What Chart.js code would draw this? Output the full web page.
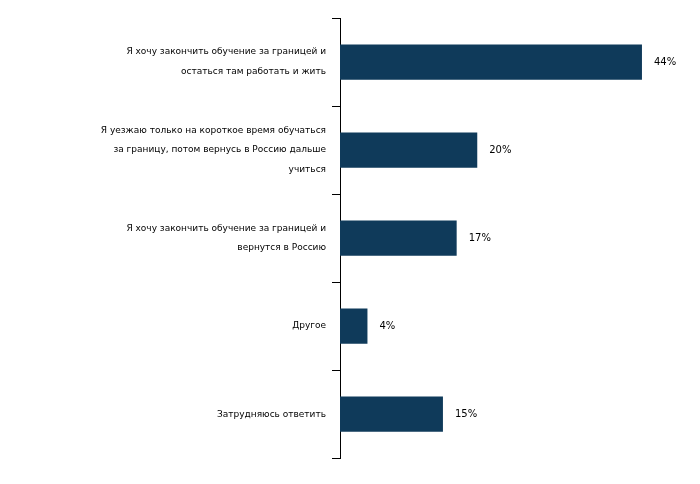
<!DOCTYPE html>
<html><head><meta charset="utf-8">
<script src="https://cdn.jsdelivr.net/npm/chart.js@4"></script>
<style>body{margin:0;background:#fff}#wrap{width:700px;height:484px}</style>
</head><body><div id="wrap"><canvas id="c"></canvas></div>
<script>
const categories = [
  ['Я хочу закончить обучение за границей и', 'остаться там работать и жить'],
  ['Я уезжаю только на короткое время обучаться', 'за границу, потом вернусь в Россию дальше', 'учиться'],
  ['Я хочу закончить обучение за границей и', 'вернутся в Россию'],
  'Другое',
  'Затрудняюсь ответить'
];
const values = [44, 20, 17, 4, 15];

// value labels to the right of each bar
const valueLabels = {
  id: 'valueLabels',
  afterDatasetsDraw(chart) {
    const ctx = chart.ctx;
    ctx.save();
    ctx.font = '10px "DejaVu Sans"';
    ctx.fillStyle = '#000';
    ctx.textBaseline = 'middle';
    chart.getDatasetMeta(0).data.forEach((bar, i) => {
      ctx.fillText(values[i] + '%', bar.x + 12, bar.y);
    });
    ctx.restore();
  }
};

new Chart(document.getElementById('c'), {
  type: 'bar',
  data: {
    labels: categories,
    datasets: [{
      data: values,
      backgroundColor: '#0f3a5a',
      barPercentage: 0.4,
      categoryPercentage: 1
    }]
  },
  options: {
    indexAxis: 'y',
    responsive: true,
    maintainAspectRatio: false,
    animation: false,
    layout: { padding: { top: 18, bottom: 18, right: 10 } },
    plugins: { legend: { display: false }, tooltip: { enabled: false } },
    scales: {
      x: { display: false, min: 0, max: 51 },
      y: {
        afterFit(scale) { scale.width = 340; },
        border: { color: '#000', width: 1 },
        grid: { drawOnChartArea: false, offset: true, tickLength: 8, color: '#000' },
        ticks: { color: '#000', padding: 6, font: { family: 'DejaVu Sans', size: 9, lineHeight: 2.2 } }
      }
    }
  },
  plugins: [valueLabels]
});
</script>
</body></html>
